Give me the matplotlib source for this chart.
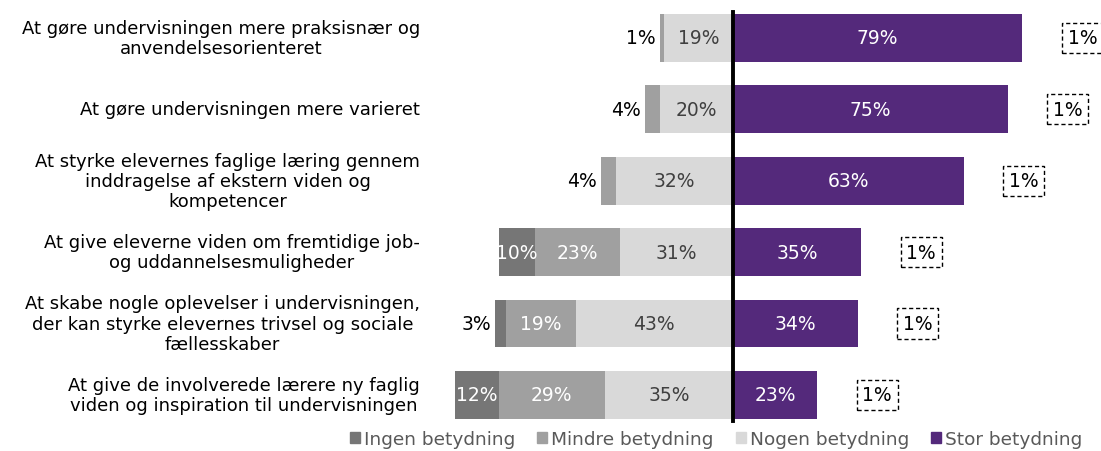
import numpy as np
import matplotlib.pyplot as plt
from matplotlib.patches import Patch

categories = [
    "At gøre undervisningen mere praksisnær og\nanvendelsesorienteret",
    "At gøre undervisningen mere varieret",
    "At styrke elevernes faglige læring gennem\ninddragelse af ekstern viden og\nkompetencer",
    "At give eleverne viden om fremtidige job-\nog uddannelsesmuligheder",
    "At skabe nogle oplevelser i undervisningen,\nder kan styrke elevernes trivsel og sociale\nfællesskaber",
    "At give de involverede lærere ny faglig\nviden og inspiration til undervisningen",
]
ingen = [0, 0, 0, 10, 3, 12]
mindre = [1, 4, 4, 23, 19, 29]
nogen = [19, 20, 32, 31, 43, 35]
stor = [79, 75, 63, 35, 34, 23]
ved_ikke = [1, 1, 1, 1, 1, 1]
series_names = ["Ingen betydning", "Mindre betydning", "Nogen betydning", "Stor betydning"]

c_ingen = "#767676"
c_mindre = "#a0a0a0"
c_nogen = "#d9d9d9"
c_stor = "#54297b"

fig = plt.figure(figsize=(11.01, 4.52), dpi=100)
ax = fig.add_axes([440/1101, 0.045, 661/1101, 0.948])

y = np.arange(len(categories))
h = 0.67
ingen_a = np.array(ingen)
mindre_a = np.array(mindre)
nogen_a = np.array(nogen)
stor_a = np.array(stor)

# left side: nogen nearest the middle, then mindre, then ingen
ax.barh(y, -nogen_a, height=h, color=c_nogen, edgecolor="none")
ax.barh(y, -mindre_a, left=-nogen_a, height=h, color=c_mindre, edgecolor="none")
ax.barh(y, -ingen_a, left=-(nogen_a + mindre_a), height=h, color=c_ingen, edgecolor="none")
ax.barh(y, stor_a, height=h, color=c_stor, edgecolor="none")

fs = 13.5
for i in range(len(categories)):
    # value labels
    ax.text(stor[i] / 2, i, f"{stor[i]}%", ha="center", va="center", color="white", fontsize=fs)
    ax.text(-nogen[i] / 2, i, f"{nogen[i]}%", ha="center", va="center", color="#404040", fontsize=fs)
    if mindre[i] >= 5:
        ax.text(-(nogen[i] + mindre[i] / 2), i, f"{mindre[i]}%", ha="center", va="center",
                color="white", fontsize=fs)
    elif mindre[i] > 0:
        ax.text(-(nogen[i] + mindre[i]) - 1.2, i, f"{mindre[i]}%", ha="right", va="center",
                color="black", fontsize=fs)
    if ingen[i] >= 5:
        ax.text(-(nogen[i] + mindre[i] + ingen[i] / 2), i, f"{ingen[i]}%", ha="center",
                va="center", color="white", fontsize=fs)
    elif ingen[i] > 0:
        ax.text(-(nogen[i] + mindre[i] + ingen[i]) - 1.2, i, f"{ingen[i]}%", ha="right",
                va="center", color="black", fontsize=fs)
    # "ved ikke" in a dashed box
    ax.text(stor[i] + 16.4, i, f"{ved_ikke[i]}%", ha="center", va="center", color="black",
            fontsize=fs, bbox=dict(boxstyle="square,pad=0.3", fc="white", ec="black",
                                   ls=(0, (3, 2)), lw=1))
    # category label
    ax.text(-85.5, i, categories[i], ha="right", va="center", multialignment="center",
            fontsize=13, linespacing=1.15, color="black", clip_on=False)

ax.plot([0, 0], [-0.36, 5.36], color="black", lw=2.8)

ax.set_xlim(-80.05, 100.5)
ax.set_ylim(5.5, -0.5)
ax.axis("off")

handles = [Patch(color=c) for c in [c_ingen, c_mindre, c_nogen, c_stor]]
fig.legend(handles, series_names, loc="center", bbox_to_anchor=(716/1101, 12/452), ncol=4,
           frameon=False, fontsize=13.3, labelcolor="#595959", handlelength=0.55, handleheight=0.55,
           handletextpad=0.2, columnspacing=1.2, borderaxespad=0, borderpad=0)

fig.savefig("out.png", dpi=100)
